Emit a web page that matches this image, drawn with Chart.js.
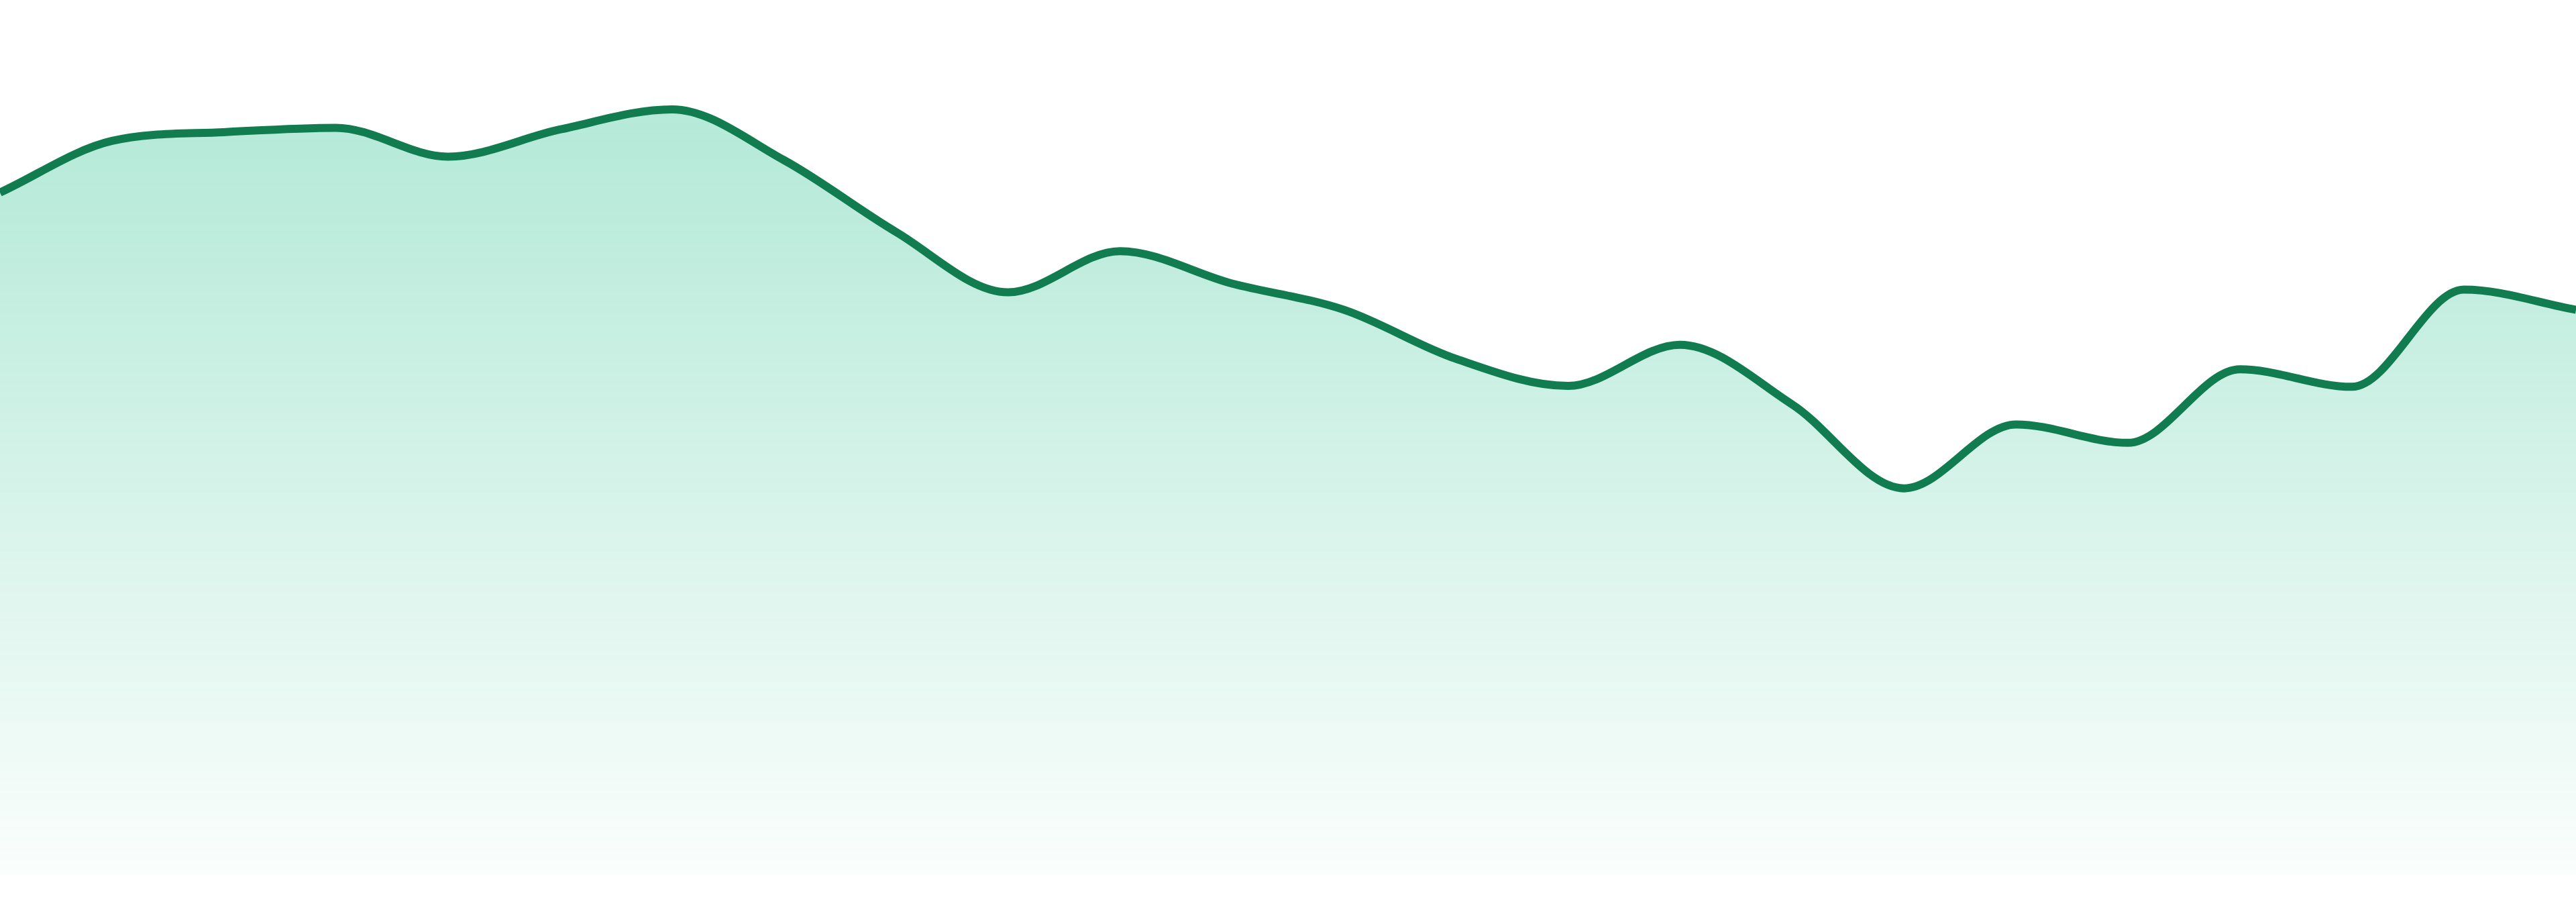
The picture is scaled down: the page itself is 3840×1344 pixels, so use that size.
<!DOCTYPE html>
<html>
<head>
<meta charset="utf-8">
<script src="https://cdn.jsdelivr.net/npm/chart.js@4"></script>
<style>
  html, body { margin: 0; padding: 0; background: #ffffff; }
  #wrap { width: 3840px; height: 1344px; position: relative; }
</style>
</head>
<body>
<div id="wrap"><canvas id="c"></canvas></div>
<script>
const labels = ["1","2","3","4","5","6","7","8","9","10","11","12","13","14","15","16","17","18","19","20","21","22","23","24"];
const values = [78.0, 83.9, 84.9, 85.4, 82.1, 85.2, 87.5, 81.7, 73.5, 66.6, 71.3, 67.6, 64.6, 59.0, 55.9, 60.6, 53.8, 44.2, 51.5, 49.4, 57.8, 55.8, 66.9, 64.6];
const yMin = 0;
const yMax = 100;

const lineColor = "rgb(17,124,80)";

new Chart(document.getElementById("c"), {
  type: "line",
  data: {
    labels: labels,
    datasets: [{
      data: values,
      borderColor: lineColor,
      borderWidth: 12,
      pointRadius: 0,
      pointHoverRadius: 0,
      cubicInterpolationMode: "monotone",
      tension: 0.4,
      fill: "start",
      backgroundColor: function(ctx) {
        const chart = ctx.chart;
        const area = chart.chartArea;
        if (!area) return "rgba(16,185,129,0.3)";
        const g = chart.ctx.createLinearGradient(0, area.top, 0, area.bottom);
        g.addColorStop(0, "rgba(16,185,129,0.34)");
        g.addColorStop(0.25, "rgba(16,185,129,0.28)");
        g.addColorStop(1, "rgba(16,185,129,0.02)");
        return g;
      }
    }]
  },
  options: {
    responsive: true,
    maintainAspectRatio: false,
    animation: false,
    layout: { padding: { top: 0, bottom: 40, left: 0, right: 0 } },
    plugins: { legend: { display: false }, tooltip: { enabled: false } },
    scales: {
      x: { display: false, offset: false },
      y: { display: false, min: yMin, max: yMax }
    }
  }
});
</script>
</body>
</html>
